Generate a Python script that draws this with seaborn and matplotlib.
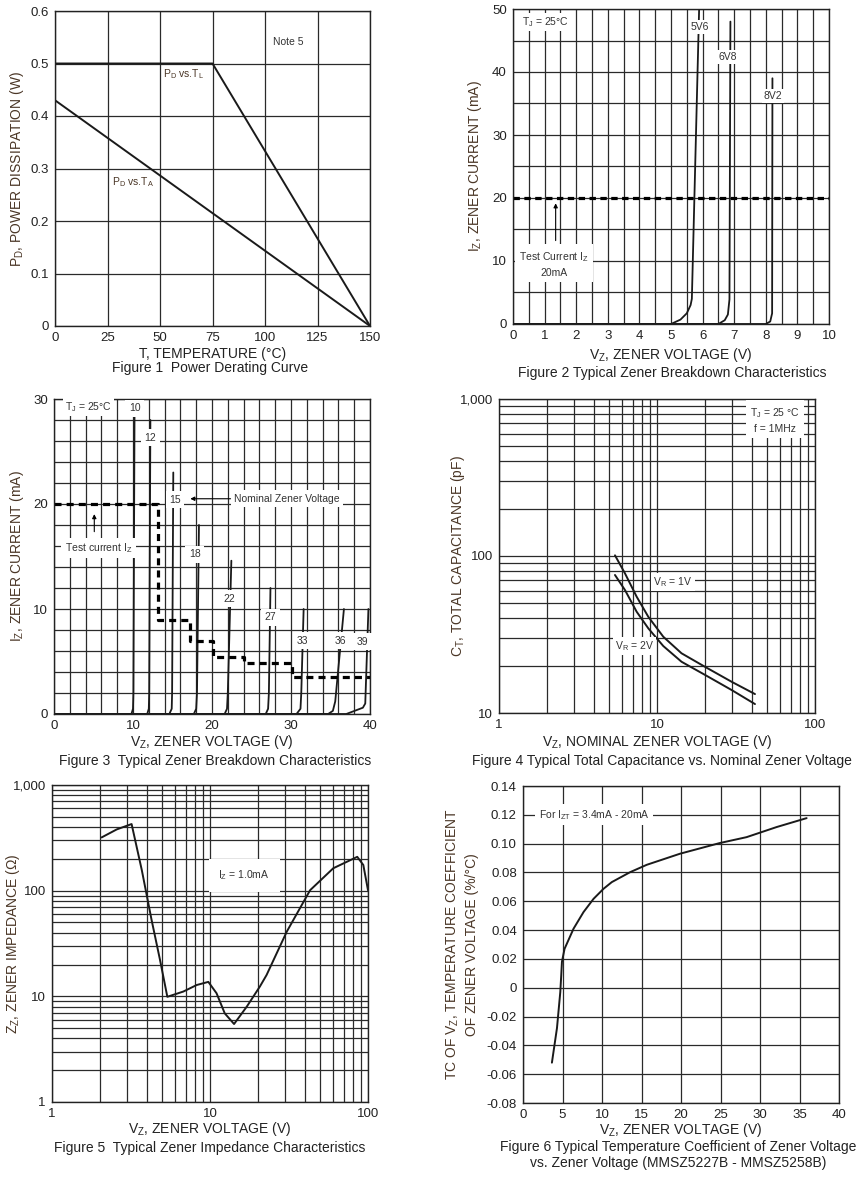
import matplotlib
matplotlib.use('Agg')
import matplotlib.pyplot as plt
import matplotlib.ticker as mticker
import seaborn as sns

# ---------------------------------------------------------------
# data
# ---------------------------------------------------------------
# Figure 1 - power derating
t_tl = [0, 75, 150]
pd_tl = [0.5, 0.5, 0.0]
t_ta = [0, 150]
pd_ta = [0.43, 0.0]

# Figure 2 - breakdown, low voltage parts (V, mA)
fig2_names = ['5V6', '6V8', '8V2']
fig2_v = [[0, 5.0, 5.3, 5.5, 5.62, 5.66, 5.89],
          [0, 6.5, 6.7, 6.8, 6.85, 6.88],
          [0, 8.0, 8.14, 8.2, 8.21]]
fig2_i = [[0, 0, 0.7, 1.7, 3.0, 4.0, 50],
          [0, 0, 0.6, 1.5, 3.9, 48],
          [0, 0, 0.4, 1.7, 39]]
fig2_lbl_v = [5.92, 6.8, 8.23]
fig2_lbl_i = [47.1, 42.4, 36.2]

# Figure 3 - breakdown, higher voltage parts
fig3_names = ['10', '12', '15', '18', '22', '27', '33', '36', '39']
fig3_v = [[0, 9.8, 10.0, 10.05, 10.2],
          [0, 11.8, 12.0, 12.05, 12.2],
          [0, 14.6, 14.9, 14.95, 15.1],
          [0, 17.7, 18.0, 18.1, 18.35],
          [0, 21.6, 21.9, 22.0, 22.45],
          [0, 26.8, 27.1, 27.2, 27.4],
          [0, 30.7, 31.2, 31.3, 31.6],
          [0, 34.7, 35.3, 35.6, 36.2, 36.7],
          [0, 37.0, 39.1, 39.4, 39.8]]
fig3_i = [[0, 0, 0.5, 2, 30],
          [0, 0, 0.5, 2, 28],
          [0, 0, 0.5, 2, 23],
          [0, 0, 0.5, 2, 18],
          [0, 0, 0.5, 2, 14.6],
          [0, 0, 0.5, 2, 12],
          [0, 0, 0.5, 2, 10],
          [0, 0, 0.3, 1.2, 6, 10],
          [0, 0, 0.6, 1, 10]]
fig3_lbl_v = [10.2, 12.2, 15.3, 17.8, 22.25, 27.4, 31.4, 36.2, 39.06]
fig3_lbl_i = [29.1, 26.3, 20.4, 15.2, 11.0, 9.2, 7.0, 7.0, 6.9]
test_v = [0, 13.2, 13.2, 17.2, 17.2, 20.1, 20.1, 24.1, 24.1, 30.1, 30.1, 40]
test_i = [20, 20, 9, 9, 7, 7, 5.4, 5.4, 4.9, 4.9, 3.5, 3.5]

# Figure 4 - capacitance
cap_v = [5.42, 6.27, 7.43, 8.81, 10.96, 14.3, 20.1, 29.7, 41.7]
cap_1v = [101, 77.5, 55.1, 41, 30.6, 24, 19.7, 15.8, 13.2]
cap_2v = [75.7, 60.7, 44.2, 34.6, 26.7, 21.2, 17.5, 14, 11.4]

# Figure 5 - impedance at 1 mA
zz_v = [2.06, 2.57, 3.19, 3.7, 4.27, 4.83, 5.37, 6.78, 8.24, 9.76, 11.0, 12.4,
        14.2, 17.1, 20.7, 22.8, 30.6, 43, 60.3, 85.5, 93.4, 100]
zz_ohm = [319, 380, 427, 157, 52.7, 22, 9.9, 11.1, 12.8, 13.7, 10.7, 6.9,
          5.47, 8.0, 12.4, 15.9, 40.9, 101, 163, 209, 175, 101]

# Figure 6 - temperature coefficient
tc_v = [3.66, 4.3, 4.72, 4.84, 4.93, 5.26, 6.4, 7.66, 8.93, 10.2, 11.24,
        13.56, 15.66, 19.87, 24.9, 28.3, 32.1, 35.9]
tc_pct = [-0.052, -0.028, -0.003, 0.0086, 0.018, 0.027, 0.041, 0.0525, 0.0617,
          0.0687, 0.0733, 0.0802, 0.0853, 0.093, 0.1004, 0.1045, 0.1115, 0.1177]

# ---------------------------------------------------------------
# styling
# ---------------------------------------------------------------
sns.set_theme(style='white')
plt.rcParams['font.family'] = ['Liberation Sans', 'DejaVu Sans']
plt.rcParams['mathtext.default'] = 'regular'
plt.rcParams['axes.unicode_minus'] = False

W, H = 863, 1182
GRID = '#2a2a2a'
LBL = '#4a3626'
TXT = '#333333'
box = dict(facecolor='white', edgecolor='none', pad=1.5)

fig = plt.figure(figsize=(W / 100, H / 100), dpi=100)


def make_ax(l, t, r, b):
    ax = fig.add_axes([l / W, 1 - b / H, (r - l) / W, (b - t) / H])
    for s in ax.spines.values():
        s.set_color('#222222')
        s.set_linewidth(1.0)
    ax.tick_params(which='major', direction='out', length=3, width=0.8,
                   labelsize=9.5, colors='#222222', pad=1.5)
    ax.tick_params(which='minor', length=0)
    ax.set_axisbelow(True)
    return ax


def finish(ax, xlab, ylab, xl_y, yl_x, cap, cap_y, cap_x):
    ax.grid(True, which='both', color=GRID, lw=0.9)
    ax.set_xlabel(xlab, fontsize=10, color='#222222', va='center')
    ax.xaxis.set_label_coords((ax.get_position().x0 + ax.get_position().x1) / 2,
                              1 - xl_y / H, transform=fig.transFigure)
    ax.set_ylabel(ylab, fontsize=10, color=LBL, va='center', linespacing=1.35)
    ax.yaxis.set_label_coords(yl_x / W, (ax.get_position().y0 + ax.get_position().y1) / 2,
                              transform=fig.transFigure)
    fig.text(cap_x / W, 1 - cap_y / H, cap, fontsize=10, color='#222222',
             ha='center', va='center', linespacing=1.25)


# ---------------- Figure 1 ----------------
ax1 = make_ax(55, 11, 370, 326)
sns.lineplot(x=t_tl, y=pd_tl, ax=ax1, color='#1a1a1a', lw=1.4, sort=False, estimator=None)
sns.lineplot(x=t_ta, y=pd_ta, ax=ax1, color='#1a1a1a', lw=1.4, sort=False, estimator=None)
ax1.set_xlim(0, 150)
ax1.set_ylim(0, 0.6)
ax1.set_xticks(range(0, 151, 25))
ax1.set_yticks([0, 0.1, 0.2, 0.3, 0.4, 0.5, 0.6])
ax1.yaxis.set_major_formatter(mticker.FuncFormatter(lambda v, p: '0' if v == 0 else f'{v:.1f}'))
ax1.text(51.5, 0.48, r'P$_D$ vs.T$_L$', fontsize=7.5, color=LBL, va='center')
ax1.text(27, 0.275, r'P$_D$ vs.T$_A$', fontsize=7.5, color=LBL, va='center')
ax1.text(104, 0.541, 'Note 5', fontsize=7.5, color=TXT, va='center')
finish(ax1, 'T, TEMPERATURE (°C)', r'P$_D$, POWER DISSIPATION (W)', 354, 17,
       'Figure 1  Power Derating Curve', 368, 210)

# ---------------- Figure 2 ----------------
ax2 = make_ax(513, 9, 829, 324)
sns.lineplot(x=[0, 10], y=[20, 20], ax=ax2, color='black', lw=2.3,
             linestyle=(0, (2, 1.4)), sort=False, estimator=None)
for v, i in zip(fig2_v, fig2_i):
    sns.lineplot(x=v, y=i, ax=ax2, color='#1a1a1a', lw=1.3, sort=False, estimator=None)
for name, x, y in zip(fig2_names, fig2_lbl_v, fig2_lbl_i):
    ax2.text(x, y, name, fontsize=7.5, color=TXT, ha='center', va='center', bbox=box)
ax2.set_xlim(0, 10)
ax2.set_ylim(0, 50)
ax2.xaxis.set_major_locator(mticker.MultipleLocator(1))
ax2.xaxis.set_minor_locator(mticker.MultipleLocator(0.5))
ax2.yaxis.set_major_locator(mticker.MultipleLocator(10))
ax2.yaxis.set_minor_locator(mticker.MultipleLocator(5))
ax2.text(0.28, 47.9, r'T$_J$ = 25°C', fontsize=7.5, color=TXT, va='center', bbox=box)
ax2.annotate('', xy=(1.35, 19.6), xytext=(1.35, 12.8),
             arrowprops=dict(arrowstyle='-|>', color='black', lw=0.8, mutation_scale=6))
ax2.text(1.3, 9.5, 'Test Current I$_Z$\n20mA', fontsize=7.5, color=TXT, ha='center',
         va='center', linespacing=1.5, bbox=dict(facecolor='white', edgecolor='none', pad=3))
finish(ax2, r'V$_Z$, ZENER VOLTAGE (V)', r'I$_Z$, ZENER CURRENT (mA)', 355, 475,
       'Figure 2 Typical Zener Breakdown Characteristics', 373, 672)

# ---------------- Figure 3 ----------------
ax3 = make_ax(54, 399, 370, 714)
for v, i in zip(fig3_v, fig3_i):
    sns.lineplot(x=v, y=i, ax=ax3, color='#1a1a1a', lw=1.3, sort=False, estimator=None)
sns.lineplot(x=test_v, y=test_i, ax=ax3, color='black', lw=2.3,
             linestyle=(0, (2.2, 1.6)), sort=False, estimator=None)
for name, x, y in zip(fig3_names, fig3_lbl_v, fig3_lbl_i):
    ax3.text(x, y, name, fontsize=7.5, color=TXT, ha='center', va='center',
             bbox=dict(facecolor='white', edgecolor='none', pad=2.5))
ax3.set_xlim(0, 40)
ax3.set_ylim(0, 30)
ax3.xaxis.set_major_locator(mticker.MultipleLocator(10))
ax3.xaxis.set_minor_locator(mticker.MultipleLocator(2))
ax3.yaxis.set_major_locator(mticker.MultipleLocator(10))
ax3.yaxis.set_minor_locator(mticker.MultipleLocator(2))
ax3.text(1.35, 29.2, r'T$_J$ = 25°C', fontsize=7.5, color=TXT, va='center', bbox=box)
ax3.text(22.8, 20.5, 'Nominal Zener Voltage', fontsize=7.5, color=TXT, va='center',
         bbox=dict(facecolor='white', edgecolor='none', pad=2.5))
ax3.annotate('', xy=(16.9, 20.5), xytext=(22.7, 20.5),
             arrowprops=dict(arrowstyle='-|>', color='black', lw=0.8, mutation_scale=6))
ax3.annotate('', xy=(5.1, 19.3), xytext=(5.1, 17.1),
             arrowprops=dict(arrowstyle='-|>', color='black', lw=0.8, mutation_scale=6))
ax3.text(1.35, 15.8, 'Test current I$_Z$', fontsize=7.5, color=TXT, va='center',
         bbox=dict(facecolor='white', edgecolor='none', pad=2.5))
finish(ax3, r'V$_Z$, ZENER VOLTAGE (V)', r'I$_Z$, ZENER CURRENT (mA)', 742, 17,
       'Figure 3  Typical Zener Breakdown Characteristics', 761, 215)

# ---------------- Figure 4 ----------------
ax4 = make_ax(499, 399, 815, 713)
sns.lineplot(x=cap_v, y=cap_1v, ax=ax4, color='#1a1a1a', lw=1.4, sort=False, estimator=None)
sns.lineplot(x=cap_v, y=cap_2v, ax=ax4, color='#1a1a1a', lw=1.4, sort=False, estimator=None)
comma = mticker.FuncFormatter(lambda v, p: f'{v:,.0f}')
ax4.set_xscale('log')
ax4.set_yscale('log')
ax4.set_xlim(1, 100)
ax4.set_ylim(10, 1000)
for axis in (ax4.xaxis, ax4.yaxis):
    axis.set_major_locator(mticker.LogLocator(base=10))
    axis.set_minor_locator(mticker.LogLocator(base=10, subs=range(2, 10)))
    axis.set_major_formatter(comma)
    axis.set_minor_formatter(mticker.NullFormatter())
ax4.text(9.5, 68, r'V$_R$ = 1V', fontsize=7.5, color=TXT, va='center', bbox=box)
ax4.text(5.42, 26.6, r'V$_R$ = 2V', fontsize=7.5, color=TXT, va='center', bbox=box)
ax4.text(56, 731, 'T$_J$ = 25 °C\nf = 1MHz', fontsize=7.5, color=TXT, ha='center',
         va='center', linespacing=1.5, bbox=dict(facecolor='white', edgecolor='none', pad=3))
finish(ax4, r'V$_Z$, NOMINAL ZENER VOLTAGE (V)', r'C$_T$, TOTAL CAPACITANCE (pF)', 742, 458,
       'Figure 4 Typical Total Capacitance vs. Nominal Zener Voltage', 761, 662)

# ---------------- Figure 5 ----------------
ax5 = make_ax(52, 785, 368, 1102)
sns.lineplot(x=zz_v, y=zz_ohm, ax=ax5, color='#1a1a1a', lw=1.4, sort=False, estimator=None)
ax5.set_xscale('log')
ax5.set_yscale('log')
ax5.set_xlim(1, 100)
ax5.set_ylim(1, 1000)
for axis in (ax5.xaxis, ax5.yaxis):
    axis.set_major_locator(mticker.LogLocator(base=10))
    axis.set_minor_locator(mticker.LogLocator(base=10, subs=range(2, 10)))
    axis.set_major_formatter(comma)
    axis.set_minor_formatter(mticker.NullFormatter())
ax5.text(11.3, 140, r'I$_Z$ = 1.0mA', fontsize=7.5, color=TXT, va='center',
         bbox=dict(facecolor='white', edgecolor='none', pad=7))
finish(ax5, r'V$_Z$, ZENER VOLTAGE (V)', r'Z$_Z$, ZENER IMPEDANCE (Ω)', 1129, 13,
       'Figure 5  Typical Zener Impedance Characteristics', 1148, 210)

# ---------------- Figure 6 ----------------
ax6 = make_ax(523, 786, 839, 1103)
sns.lineplot(x=tc_v, y=tc_pct, ax=ax6, color='#1a1a1a', lw=1.4, sort=False, estimator=None)
ax6.set_xlim(0, 40)
ax6.set_ylim(-0.08, 0.14)
ax6.set_xticks(range(0, 41, 5))
ax6.set_yticks([-0.08, -0.06, -0.04, -0.02, 0, 0.02, 0.04, 0.06, 0.08, 0.10, 0.12, 0.14])
ax6.yaxis.set_major_formatter(mticker.FuncFormatter(lambda v, p: '0' if abs(v) < 1e-9 else f'{v:.2f}'))
ax6.text(2.0, 0.12, r'For I$_{ZT}$ = 3.4mA - 20mA', fontsize=7.5, color=TXT, va='center',
         bbox=dict(facecolor='white', edgecolor='none', pad=2.5))
finish(ax6, r'V$_Z$, ZENER VOLTAGE (V)',
       'TC OF V$_Z$, TEMPERATURE COEFFICIENT\nOF ZENER VOLTAGE (%/°C)', 1130, 462,
       'Figure 6 Typical Temperature Coefficient of Zener Voltage\n'
       'vs. Zener Voltage (MMSZ5227B - MMSZ5258B)', 1155, 678)

fig.savefig('out.png', dpi=100)
